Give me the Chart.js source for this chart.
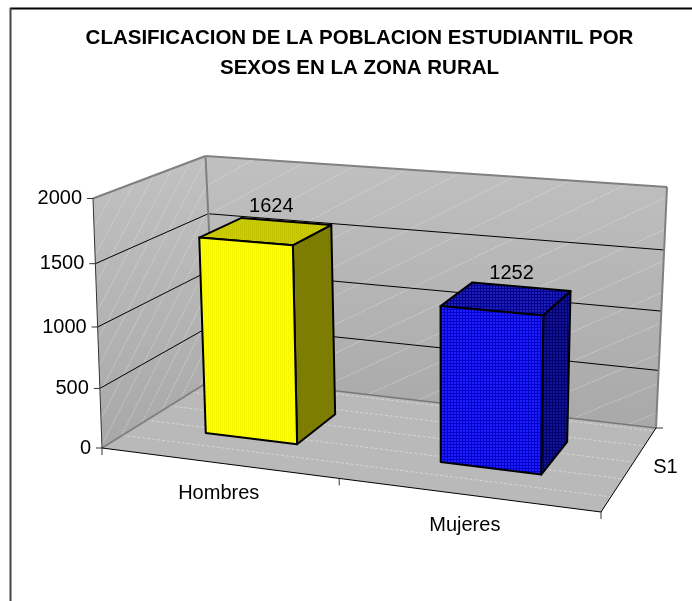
<!DOCTYPE html>
<html><head><meta charset="utf-8">
<style>html,body{margin:0;padding:0;background:#fff}canvas{display:block}</style>
<script src="https://cdn.jsdelivr.net/npm/chart.js@4"></script></head>
<body><canvas id="c" width="692" height="601"></canvas>
<script>
const titleLines = ['CLASIFICACION DE LA POBLACION ESTUDIANTIL POR', 'SEXOS EN LA ZONA RURAL'];
const categories = ['Hombres', 'Mujeres'];
const seriesName = 'S1';
const values = [1624, 1252];
const yMin = 0, yMax = 2000, yStep = 500;

// view of the 3-D box: corners of floor and ceiling (front-left, front-right, back-right, back-left)
const floorQuad = [[102,448],[601,512],[656,428],[216,377]];
const topQuad   = [[93,198.5],[606,237],[667,187],[205.5,156]];
const depthFront = 0.3, depthBack = 0.7;
const bowU = 0.007, bowV = 0.06;

function homography(q){
  const [[x0,y0],[x1,y1],[x2,y2],[x3,y3]] = q;
  const dx1=x1-x2,dx2=x3-x2,sx=x0-x1+x2-x3,dy1=y1-y2,dy2=y3-y2,sy=y0-y1+y2-y3;
  const den=dx1*dy2-dx2*dy1, g=(sx*dy2-dx2*sy)/den, h=(dx1*sy-sx*dy1)/den;
  const a=x1-x0+g*x1,b=x3-x0+h*x3,d=y1-y0+g*y1,e=y3-y0+h*y3;
  return (u,w)=>{const k=g*u+h*w+1;return [(a*u+b*w+x0)/k,(d*u+e*w+y0)/k];};
}
const floorH = homography(floorQuad), topH = homography(topQuad);
function P(u,v,w){
  const uu=u-bowU*4*u*(1-u), vv=v-bowV*v*(1-v);
  const f=floorH(uu,w),t=topH(uu,w);return [f[0]+(t[0]-f[0])*vv,f[1]+(t[1]-f[1])*vv];
}

function poly(ctx,pts){ctx.beginPath();pts.forEach((p,i)=>i?ctx.lineTo(p[0],p[1]):ctx.moveTo(p[0],p[1]));ctx.closePath();}
function seg(ctx,a,b,col,lw,dash){ctx.save();ctx.strokeStyle=col;ctx.lineWidth=lw;if(dash)ctx.setLineDash(dash);ctx.beginPath();ctx.moveTo(a[0],a[1]);ctx.lineTo(b[0],b[1]);ctx.stroke();ctx.restore();}
function pattern(ctx,w,h,base,dot,cells){const c=document.createElement('canvas');c.width=w;c.height=h;const g=c.getContext('2d');g.fillStyle=base;g.fillRect(0,0,w,h);g.fillStyle=dot;cells.forEach(r=>g.fillRect(r[0],r[1],r[2],r[3]));return ctx.createPattern(c,'repeat');}
function faceStyles(ctx,i){
  if(i===0){const d=[[0,0,1,1],[2,1,1,1]];return{
    front:pattern(ctx,4,2,'#ffff00','#eeee00',d),
    top:pattern(ctx,4,2,'#cccc00','#bcbc00',d),
    side:pattern(ctx,4,2,'#808000','#767600',d)};}
  const g=[[0,0,3,1],[0,0,1,3]];return{
    front:pattern(ctx,3,3,'#2020ff','#0000c8',g),
    top:pattern(ctx,3,3,'#2020b8','#000090',g),
    side:pattern(ctx,3,3,'#14149a','#000068',g)};
}

const box3d = {
  id:'box3d',
  beforeDatasetsDraw(chart){
    const ctx=chart.ctx, yS=chart.scales.y;
    const vOf=val=>(yS.bottom-yS.getPixelForValue(val))/(yS.bottom-yS.top);
    // frame
    ctx.save();
    seg(ctx,[10,8.5],[692,8.5],'#000',2);
    seg(ctx,[10.5,8],[10.5,601],'#444',2);
    // floor
    poly(ctx,[P(0,0,0),P(1,0,0),P(1,0,1),P(0,0,1)]);ctx.fillStyle='#b9b9b9';ctx.fill();
    // back wall
    const gb=ctx.createLinearGradient(0,160,0,425);gb.addColorStop(0,'#c0c0c0');gb.addColorStop(1,'#a9a9a9');
    poly(ctx,[P(0,0,1),P(1,0,1),P(1,1,1),P(0,1,1)]);ctx.fillStyle=gb;ctx.fill();
    // left wall
    const gl=ctx.createLinearGradient(0,170,0,440);gl.addColorStop(0,'#c0c0c0');gl.addColorStop(1,'#a9a9a9');
    poly(ctx,[P(0,0,0),P(0,0,1),P(0,1,1),P(0,1,0)]);ctx.fillStyle=gl;ctx.fill();
    // wall hatching
    const hatch='rgba(235,235,235,0.45)';
    for(let c=-0.9;c<1;c+=0.115){const v0=Math.max(0,-c/0.9),v1=Math.min(1,(1-c)/0.9);
      if(v1>v0)seg(ctx,P(c+0.9*v0,v0,1),P(c+0.9*v1,v1,1),hatch,1,[2,1]);}
    for(let c=-1.55;c<1;c+=0.17){const v0=Math.max(0,-c/1.55),v1=Math.min(1,(1-c)/1.55);
      if(v1>v0)seg(ctx,P(0,v0,c+1.55*v0),P(0,v1,c+1.55*v1),hatch,1,[2,1]);}
    for(let w=0.16;w<1;w+=0.2)seg(ctx,P(0,0,w),P(1,0,w),'rgba(240,240,240,0.5)',1,[3,2]);
    // gridlines from the value scale
    yS.ticks.forEach(t=>{const v=vOf(t.value);if(v>0&&v<1){
      seg(ctx,P(0,v,0),P(0,v,1),'#000',1);seg(ctx,P(0,v,1),P(1,v,1),'#000',1);}});
    // box edges
    const grey='#808080';
    seg(ctx,P(0,1,0),P(0,1,1),grey,2);seg(ctx,P(0,1,1),P(1,1,1),grey,2);seg(ctx,P(1,1,1),P(1,0,1),grey,2);
    seg(ctx,P(0,1,1),P(0,0,1),grey,2);seg(ctx,P(0,0,0),P(0,0,1),grey,2);seg(ctx,P(0,0,1),P(1,0,1),'#777',1.5);
    seg(ctx,P(0,1,0),P(0,0,0),'#333',1);
    seg(ctx,P(0,0,0),P(1,0,0),'#000',1);seg(ctx,P(1,0,0),P(1,0,1),'#000',1);
    // axis ticks and labels
    ctx.fillStyle='#000';ctx.font='20px "Liberation Sans"';ctx.textBaseline='middle';
    ctx.textAlign='right';
    yS.ticks.forEach(t=>{const p=P(0,vOf(t.value),0);
      seg(ctx,[p[0]-6,p[1]],p,'#333',1);ctx.fillText(String(t.value),p[0]-11,p[1]);});
    ctx.textAlign='center';
    [0,0.5,1].forEach(u=>{const p=P(u,0,0);seg(ctx,p,[p[0],p[1]+7],'#333',1);});
    categories.forEach((c,i)=>{const p=P((i+0.5)/categories.length,0,0);ctx.fillText(c,p[0]+(i?-2:1),p[1]+31);});
    const q=P(1,0,1);seg(ctx,q,[q[0]+7,q[1]],'#333',1);
    const s=P(1,0,0.5);ctx.fillText(seriesName,s[0]+35,s[1]);
    ctx.restore();
  },
  beforeDatasetDraw(chart,args){
    const ctx=chart.ctx,a=chart.chartArea,meta=args.meta;
    ctx.save();ctx.lineJoin='round';ctx.lineWidth=2;ctx.strokeStyle='#000';
    meta.data.forEach((el,i)=>{
      const p=el.getProps(['x','y','base','width'],true);
      const u0=(p.x-p.width/2-a.left)/a.width,u1=(p.x+p.width/2-a.left)/a.width;
      const H=a.bottom-a.top,v0=(a.bottom-p.base)/H,v1=(a.bottom-p.y)/H;
      const w0=depthFront,w1=depthBack,st=faceStyles(ctx,i);
      const face=(pts,f)=>{poly(ctx,pts);ctx.fillStyle=f;ctx.fill();ctx.stroke();};
      face([P(u0,v1,w0),P(u1,v1,w0),P(u1,v1,w1),P(u0,v1,w1)],st.top);
      face([P(u1,v0,w0),P(u1,v0,w1),P(u1,v1,w1),P(u1,v1,w0)],st.side);
      face([P(u0,v0,w0),P(u1,v0,w0),P(u1,v1,w0),P(u0,v1,w0)],st.front);
      const c=P((u0+u1)/2,v1,(w0+w1)/2);
      ctx.fillStyle='#000';ctx.font='20px "Liberation Sans"';ctx.textAlign='center';ctx.textBaseline='middle';
      ctx.fillText(String(values[i]),c[0]+5,c[1]-24.5);
    });
    ctx.restore();
    return false;
  }
};

new Chart(document.getElementById('c'),{
  type:'bar',
  data:{labels:categories,datasets:[{label:seriesName,data:values,backgroundColor:['#ffff00','#0000ff'],categoryPercentage:1,barPercentage:0.4}]},
  options:{
    responsive:false,animation:false,
    layout:{padding:{left:27,top:23}},
    plugins:{legend:{display:false},tooltip:{enabled:false},
      title:{display:true,text:titleLines,color:'#000',padding:0,font:{family:'"Liberation Sans"',size:20.5,weight:'bold',lineHeight:30/20.5}}},
    scales:{
      x:{display:false},
      y:{display:false,min:yMin,max:yMax,ticks:{stepSize:yStep}}
    }
  },
  plugins:[box3d]
});
</script></body></html>
